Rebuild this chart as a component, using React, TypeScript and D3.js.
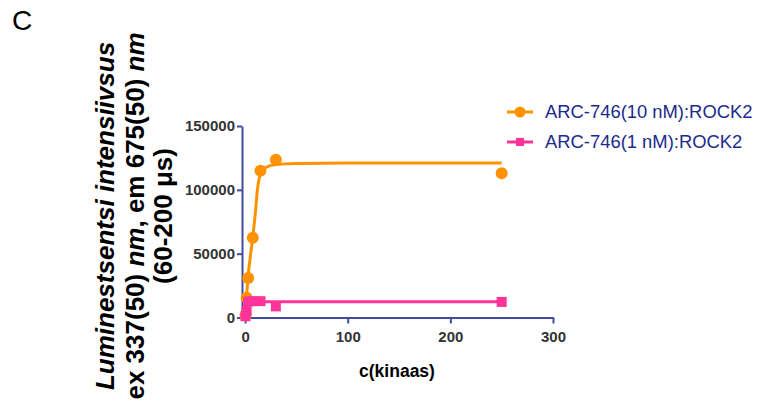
import React, { useEffect, useRef } from 'react';
import * as d3 from 'd3';

// measured points
const concs = [0.4, 1.5, 3, 7.5, 15, 30, 250];
const orangeVals = [1500, 15500, 31000, 62500, 115000, 123500, 113000];
const pinkVals = [1000, 5000, 12500, 12800, 12800, 8700, 12200];

// fitted curves
const orangeFitX = [0, 1.5, 3, 5, 7.5, 10, 12, 14, 16, 20, 30, 50, 100, 250];
const orangeFitY = [0, 17000, 33000, 47000, 63000, 82000, 100000, 110000, 114500, 117500, 119800, 120700, 121000, 121000];
const pinkFitX = [0, 0.5, 1, 1.5, 2, 3, 10, 250];
const pinkFitY = [0, 4000, 8000, 10500, 11800, 12300, 12300, 12300];

const xTicks = [0, 100, 200, 300];
const yTicks = [0, 50000, 100000, 150000];
const seriesNames = ['ARC-746(10 nM):ROCK2', 'ARC-746(1 nM):ROCK2'];

const ORANGE = '#FF9200';
const PINK = '#FF3399';
const AXIS = '#434B9C';
const FONT = '"Liberation Sans", Arial, sans-serif';

export default function App() {
  const gRef = useRef<SVGGElement>(null);

  useEffect(() => {
    const svg = d3.select(gRef.current);
    svg.selectAll('*').remove();

    const x = d3.scaleLinear().domain([-3, 300]).range([242, 553]);
    const y = d3.scaleLinear().domain([0, 150000]).range([317.5, 126]);

    const xAxis = svg
      .append('g')
      .attr('transform', `translate(0,${y(0)})`)
      .call(d3.axisBottom(x).tickValues(xTicks).tickSize(6).tickSizeOuter(0).tickFormat(d3.format('d')));
    const yAxis = svg
      .append('g')
      .attr('transform', `translate(${x(-3)},0)`)
      .call(d3.axisLeft(y).tickValues(yTicks).tickSize(5).tickSizeOuter(0).tickFormat(d3.format('d')));

    [xAxis, yAxis].forEach((g) => {
      g.select('.domain').attr('stroke', AXIS).attr('stroke-width', 2);
      g.selectAll('.tick line').attr('stroke', AXIS).attr('stroke-width', 2);
      g.selectAll('.tick text')
        .attr('fill', '#333')
        .style('font-family', FONT)
        .style('font-weight', 'bold')
        .style('font-size', '15px');
    });
    xAxis.selectAll('.tick text').attr('dy', '1em').attr('y', 9);
    yAxis.selectAll('.tick text').attr('x', -7);

    const line = d3
      .line<[number, number]>()
      .x((d) => x(d[0]))
      .y((d) => y(d[1]))
      .curve(d3.curveMonotoneX);

    const orangeFit = orangeFitX.map((v, i) => [v, orangeFitY[i]] as [number, number]);
    const pinkFit = pinkFitX.map((v, i) => [v, pinkFitY[i]] as [number, number]);

    svg.append('path').attr('d', line(orangeFit)).attr('fill', 'none').attr('stroke', ORANGE).attr('stroke-width', 3);
    svg
      .selectAll('.opt')
      .data(concs)
      .join('circle')
      .attr('cx', (d) => x(d))
      .attr('cy', (d, i) => y(orangeVals[i]))
      .attr('r', 6)
      .attr('fill', ORANGE);

    svg.append('path').attr('d', line(pinkFit)).attr('fill', 'none').attr('stroke', PINK).attr('stroke-width', 3);
    svg
      .selectAll('.ppt')
      .data(concs)
      .join('rect')
      .attr('x', (d) => x(d) - 5)
      .attr('y', (d, i) => y(pinkVals[i]) - 5)
      .attr('width', 10)
      .attr('height', 10)
      .attr('fill', PINK);

    // legend
    const legend = svg.append('g').attr('transform', 'translate(507,112)');
    seriesNames.forEach((name, i) => {
      const row = legend.append('g').attr('transform', `translate(0,${i * 30})`);
      const col = i === 0 ? ORANGE : PINK;
      row.append('line').attr('x1', 0).attr('x2', 26).attr('stroke', col).attr('stroke-width', 3);
      if (i === 0) row.append('circle').attr('cx', 13).attr('r', 5.5).attr('fill', col);
      else row.append('rect').attr('x', 9).attr('y', -4).attr('width', 8).attr('height', 8).attr('fill', col);
      row
        .append('text')
        .attr('x', 38)
        .attr('y', 6)
        .attr('fill', '#1B2A8C')
        .style('font-family', FONT)
        .style('font-size', '18.4px')
        .text(name);
    });
  }, []);

  return (
    <svg
      width={763}
      height={408}
      style={{ position: 'absolute', left: 0, top: 0, background: '#fff' }}
    >
      <text x={12} y={30} fontFamily={FONT} fontSize={28} fill="#000">C</text>
      <text x={397} y={377} textAnchor="middle" fontFamily={FONT} fontSize={17.5} fontWeight="bold" fill="#000">
        c(kinaas)
      </text>
      <g transform="translate(0,216) rotate(-90)" fontFamily={FONT} fontSize={26} fontWeight="bold" fill="#000" textAnchor="middle">
        <text x={0} y={114} fontStyle="italic">Luminestsentsi intensiivsus</text>
        <text x={0} y={144}>
          ex 337(50) <tspan fontStyle="italic">nm</tspan>, em 675(50) <tspan fontStyle="italic">nm</tspan>
        </text>
        <text x={0} y={172}>(60-200 μs)</text>
      </g>
      <g ref={gRef} />
    </svg>
  );
}
